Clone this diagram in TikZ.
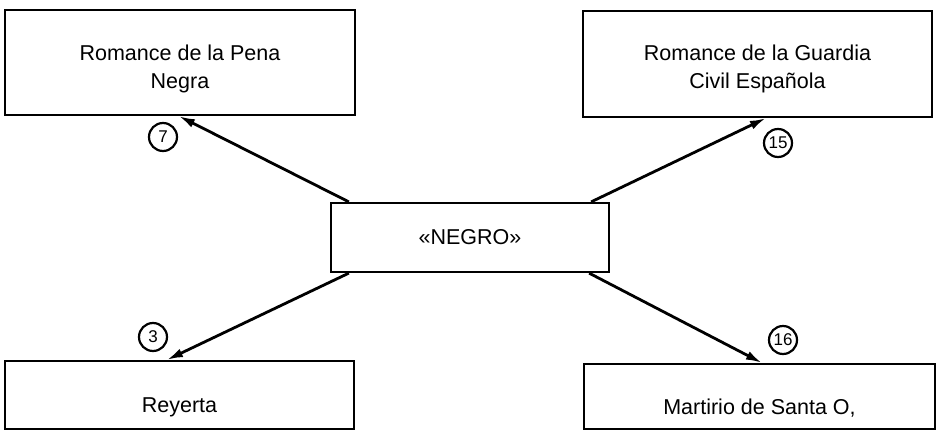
\documentclass[tikz,border=0pt]{standalone}
\usepackage{fontspec}
\setmainfont{Liberation Sans}
\usetikzlibrary{arrows.meta}
\begin{document}
\begin{tikzpicture}[x=1pt,y=-1pt,
  box/.style={draw, line width=2.2pt, rectangle, inner sep=0pt},
  txt/.style={font=\fontsize{21.5}{28}\selectfont, align=center, inner sep=0pt},
  num/.style={draw, circle, line width=2.2pt, minimum size=28pt, inner sep=0pt,
              font=\fontsize{17}{17}\selectfont},
  link/.style={line width=2.8pt, -{Latex[length=16pt,width=9pt]}}]
\useasboundingbox (0,0) rectangle (937,431);

% the four poems around the central word
\node[box, minimum width=350pt, minimum height=105pt,
      label={[txt, yshift=-6.5pt]center:Romance de la Pena\\Negra}]
      (pena) at (180,62.5) {};
\node[box, minimum width=349pt, minimum height=106pt,
      label={[txt, yshift=-5pt]center:Romance de la Guardia\\Civil Española}]
      (guardia) at (757.5,64) {};
\node[box, minimum width=349pt, minimum height=68pt,
      label={[txt, yshift=-12pt]center:Reyerta}]
      (reyerta) at (179.5,395) {};
\node[box, minimum width=351pt, minimum height=65pt,
      label={[txt, yshift=-11.5pt]center:Martirio de Santa O,}]
      (martirio) at (759.5,396.5) {};

% central word
\node[box, minimum width=278pt, minimum height=69pt,
      label={[txt]center:«NEGRO»}]
      (negro) at (470,237.5) {};

% connectors
\draw[link] ([xshift=19pt]negro.north west) -- ([xshift=175pt]pena.south west);
\draw[link] ([xshift=-19pt]negro.north east) -- ([xshift=184pt]guardia.south west);
\draw[link] ([xshift=19pt]negro.south west) -- ([xshift=163pt]reyerta.north west);
\draw[link] ([xshift=-21pt]negro.south east) -- ([xshift=179pt]martirio.north west);

% poem numbers
\node[num] (n7)  at (163,137) {7};
\node[num] (n15) at (778,143) {15};
\node[num] (n3)  at (153,337) {3};
\node[num] (n16) at (783,340) {16};
\end{tikzpicture}
\end{document}
